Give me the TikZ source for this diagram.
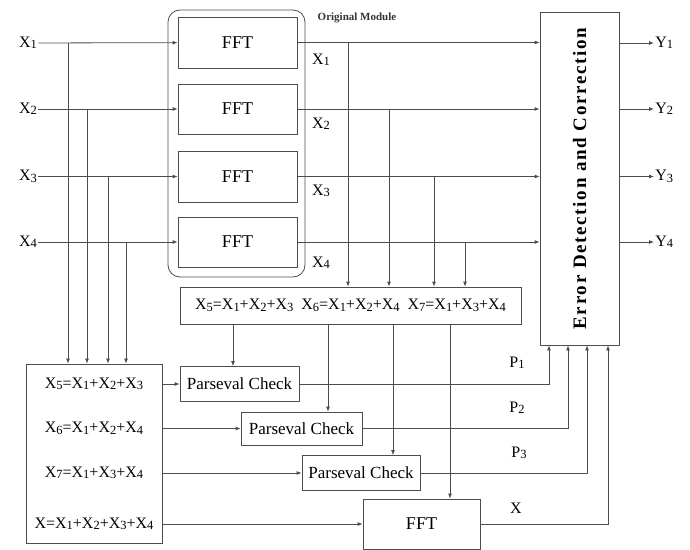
\documentclass[tikz,border=0pt]{standalone}
\usepackage{fontspec}
\setmainfont{Liberation Serif}
\usetikzlibrary{arrows.meta}
\newcommand{\Xs}[1]{X\raisebox{-0.2ex}{\scalebox{0.78}{#1}}}
\newcommand{\Ls}[2]{#1\raisebox{-0.2ex}{\scalebox{0.78}{#2}}}

\begin{document}
\begin{tikzpicture}[x=1pt,y=-1pt,line width=0.8pt,
  blk/.style={draw=black!70, rectangle, inner sep=0pt, font=\fontsize{17}{19}\selectfont},
  lbl/.style={inner sep=1pt, font=\fontsize{16}{18}\selectfont},
  wire/.style={draw=black!70},
  arr/.style={wire, -{Latex[length=5pt,width=4pt]}}]
\useasboundingbox (0,0) rectangle (690,549);

% original module
\draw[black!70, rounded corners=12pt] (168,10) rectangle (305,277);
\node[font=\bfseries\fontsize{11}{12}\selectfont, inner sep=0pt, text=black!80] (orig) at (357,18) {Original Module};
\node[blk, minimum width=119, minimum height=51, font=\fontsize{18}{20}\selectfont] (fft1) at (237.5,42.5) {FFT};
\node[blk, minimum width=119, minimum height=50, font=\fontsize{18}{20}\selectfont] (fft2) at (237.5,109) {FFT};
\node[blk, minimum width=119, minimum height=51, font=\fontsize{18}{20}\selectfont] (fft3) at (237.5,176.5) {FFT};
\node[blk, minimum width=119, minimum height=50, font=\fontsize{18}{20}\selectfont] (fft4) at (237.5,242) {FFT};

% inputs
\node[lbl] (in1) at (28,43) {\Xs{1}};
\node[lbl] (in2) at (28,109) {\Xs{2}};
\node[lbl] (in3) at (28,176.5) {\Xs{3}};
\node[lbl] (in4) at (28,242) {\Xs{4}};
\foreach \i in {1,...,4}
  \draw[arr] (in\i) -- (fft\i);

% checksum block
\node[blk, minimum width=136, minimum height=179] (sum) at (94,453.5) {};
\node[lbl] (r1) at (94,384) {\Xs{5}=\Xs{1}+\Xs{2}+\Xs{3}};
\node[lbl] (r2) at (94,428.5) {\Xs{6}=\Xs{1}+\Xs{2}+\Xs{4}};
\node[lbl] (r3) at (94,473) {\Xs{7}=\Xs{1}+\Xs{3}+\Xs{4}};
\node[lbl] (r4) at (94,524) {X=\Xs{1}+\Xs{2}+\Xs{3}+\Xs{4}};
\coordinate (t1) at (68,0);
\coordinate (t2) at (87,0);
\coordinate (t3) at (108,0);
\coordinate (t4) at (126,0);
\foreach \i in {1,...,4}
  \draw[arr] (t\i |- in\i) -- (t\i |- sum.north);

% middle block
\node[blk, minimum width=341, minimum height=37, font=\fontsize{16}{18}\selectfont] (mid) at (350.5,305.5)
  {\Xs{5}=\Xs{1}+\Xs{2}+\Xs{3}\hspace{0.5em}\Xs{6}=\Xs{1}+\Xs{2}+\Xs{4}\hspace{0.5em}\Xs{7}=\Xs{1}+\Xs{3}+\Xs{4}};

% parseval checks
\node[blk, minimum width=119, minimum height=35] (pc1) at (239.5,384) {Parseval Check};
\node[blk, minimum width=121, minimum height=33] (pc2) at (301.5,428.5) {Parseval Check};
\node[blk, minimum width=118, minimum height=35] (pc3) at (361,473) {Parseval Check};
\node[blk, minimum width=117, minimum height=50, font=\fontsize{18}{20}\selectfont] (fftx) at (421.5,524) {FFT};
\draw[arr] (r1 -| sum.east) -- (pc1);
\draw[arr] (r2 -| sum.east) -- (pc2);
\draw[arr] (r3 -| sum.east) -- (pc3);
\draw[arr] (r4 -| sum.east) -- (fftx);

% error detection and correction
\node[blk, minimum width=79, minimum height=333] (edc) at (579.5,178.5) {};
\node[rotate=90, font=\bfseries\fontsize{19}{21}\selectfont\addfontfeature{LetterSpace=9}] (edctxt) at (edc) {Error Detection and Correction};
\foreach \i in {1,...,4}
  \draw[arr] (fft\i.east) -- (fft\i.east -| edc.west);

% outputs of the original module
\node[lbl] (o1) at (321,60) {\Xs{1}};
\node[lbl] (o2) at (321,124) {\Xs{2}};
\node[lbl] (o3) at (321,191) {\Xs{3}};
\node[lbl] (o4) at (321,263) {\Xs{4}};
\coordinate (m1) at (348,0);
\coordinate (m2) at (389,0);
\coordinate (m3) at (434,0);
\coordinate (m4) at (465,0);
\foreach \i in {1,...,4}
  \draw[arr] (m\i |- fft\i) -- (m\i |- mid.north);

% middle block to checks
\coordinate (d1) at (233,0);
\coordinate (d2) at (328,0);
\coordinate (d3) at (393,0);
\coordinate (d4) at (450,0);
\draw[arr] (d1 |- mid.south) -- (d1 |- pc1.north);
\draw[arr] (d2 |- mid.south) -- (d2 |- pc2.north);
\draw[arr] (d3 |- mid.south) -- (d3 |- pc3.north);
\draw[arr] (d4 |- mid.south) -- (d4 |- fftx.north);

% checks to error correction
\coordinate (e1) at (549,0);
\coordinate (e2) at (568,0);
\coordinate (e3) at (587,0);
\coordinate (e4) at (608,0);
\draw[arr] (pc1.east) -- (e1 |- pc1) -- (e1 |- edc.south);
\draw[arr] (pc2.east) -- (e2 |- pc2) -- (e2 |- edc.south);
\draw[arr] (pc3.east) -- (e3 |- pc3) -- (e3 |- edc.south);
\draw[arr] (fftx.east) -- (e4 |- fftx) -- (e4 |- edc.south);
\node[lbl] (p1) at (517,363) {\Ls{P}{1}};
\node[lbl] (p2) at (517,408) {\Ls{P}{2}};
\node[lbl] (p3) at (519,453) {\Ls{P}{3}};
\node[lbl] (px) at (516,508) {X};

% final outputs
\node[lbl, anchor=west] (y1) at (654,43) {\Ls{Y}{1}};
\node[lbl, anchor=west] (y2) at (654,109) {\Ls{Y}{2}};
\node[lbl, anchor=west] (y3) at (654,176.5) {\Ls{Y}{3}};
\node[lbl, anchor=west] (y4) at (654,242) {\Ls{Y}{4}};
\foreach \i in {1,...,4}
  \draw[arr] (y\i -| edc.east) -- (y\i.west);
\end{tikzpicture}
\end{document}
